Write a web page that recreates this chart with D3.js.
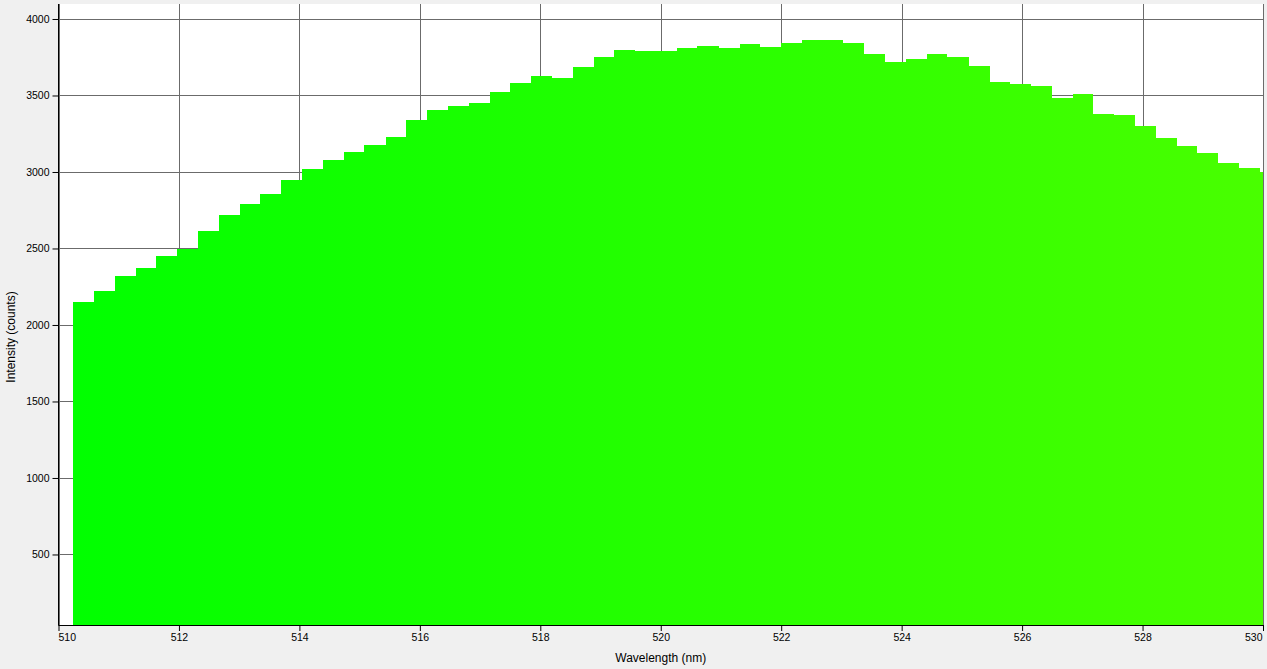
<!DOCTYPE html>
<html>
<head>
<meta charset="utf-8">
<script src="https://cdn.jsdelivr.net/npm/d3@7"></script>
<style>
  html, body { margin: 0; padding: 0; background: #f0f0f0; overflow: hidden; }
  svg { display: block; }
  text { font-family: "Liberation Sans", Arial, sans-serif; fill: #000; }
</style>
</head>
<body>
<svg id="chart" width="1267" height="669"></svg>
<script>
// Left edge of each spectrometer bin (nm)
const binStart = [510.24, 510.59, 510.93, 511.28, 511.62, 511.97, 512.31, 512.66, 513.01, 513.35,
  513.70, 514.04, 514.39, 514.74, 515.08, 515.43, 515.77, 516.12, 516.46, 516.81,
  517.16, 517.50, 517.85, 518.19, 518.54, 518.89, 519.23, 519.58, 519.92, 520.27,
  520.61, 520.96, 521.31, 521.65, 522.00, 522.34, 522.69, 523.03, 523.38, 523.73,
  524.07, 524.42, 524.76, 525.11, 525.46, 525.80, 526.15, 526.49, 526.84, 527.18,
  527.53, 527.88, 528.22, 528.57, 528.91, 529.26, 529.60, 529.95];
const lastBinEnd = 530.30;
// Intensity (counts)
const intensity = [2153, 2225, 2323, 2375, 2453, 2499, 2612, 2721, 2793, 2858,
  2950, 3022, 3080, 3133, 3178, 3231, 3341, 3407, 3433, 3453,
  3525, 3583, 3629, 3616, 3688, 3753, 3798, 3792, 3792, 3811,
  3824, 3811, 3837, 3818, 3844, 3863, 3863, 3844, 3772, 3720,
  3739, 3772, 3753, 3694, 3590, 3577, 3564, 3485, 3511, 3380,
  3374, 3302, 3224, 3172, 3126, 3061, 3028, 3002];
const xTicks = [510, 512, 514, 516, 518, 520, 522, 524, 526, 528, 530];
const yTicks = [500, 1000, 1500, 2000, 2500, 3000, 3500, 4000];
const xDomain = [510, 530];
const yDomain = [39, 4098];
const xLabel = "Wavelength (nm)";
const yLabel = "Intensity (counts)";

const svg = d3.select("#chart");
const L = 58.5, R = 1263, T = 4, B = 625;

const x = d3.scaleLinear().domain(xDomain).range([L, R]);
const y = d3.scaleLinear().domain(yDomain).range([B, T]);
const colour = d3.scaleLinear().domain(xDomain).range(["rgb(0,255,0)", "rgb(73,255,0)"]);

const defs = svg.append("defs");
defs.append("clipPath").attr("id", "plotClip")
  .append("rect").attr("x", L).attr("y", T).attr("width", R - L).attr("height", B - T);
const grad = defs.append("linearGradient").attr("id", "specGrad")
  .attr("gradientUnits", "userSpaceOnUse")
  .attr("x1", x(xDomain[0])).attr("x2", x(xDomain[1])).attr("y1", 0).attr("y2", 0);
[0, 0.25, 0.5, 0.75, 1].forEach(t => {
  const w = xDomain[0] + t * (xDomain[1] - xDomain[0]);
  grad.append("stop").attr("offset", t).attr("stop-color", colour(w));
});

// plot background
svg.append("rect").attr("x", L).attr("y", T).attr("width", R - L).attr("height", B - T).attr("fill", "#fff");

// grid
const grid = svg.append("g").attr("shape-rendering", "crispEdges");
grid.selectAll(".gx").data(xTicks).join("line")
  .attr("x1", d => Math.round(x(d)) + 0.5).attr("x2", d => Math.round(x(d)) + 0.5)
  .attr("y1", T).attr("y2", B).attr("stroke", "#6b6b6b");
grid.selectAll(".gy").data(yTicks).join("line")
  .attr("x1", L).attr("x2", R)
  .attr("y1", d => Math.round(y(d)) + 0.5).attr("y2", d => Math.round(y(d)) + 0.5)
  .attr("stroke", "#6b6b6b");

// spectrum (step area)
const pts = binStart.map((w, i) => [w, intensity[i]]);
pts.push([lastBinEnd, intensity[intensity.length - 1]]);
const area = d3.area()
  .x(d => x(d[0])).y0(y(yDomain[0])).y1(d => y(d[1]))
  .curve(d3.curveStepAfter);
svg.append("path").datum(pts)
  .attr("clip-path", "url(#plotClip)")
  .attr("d", area)
  .attr("fill", "url(#specGrad)")
  .attr("shape-rendering", "crispEdges");

// axes
const xAxis = d3.axisBottom(x).tickValues(xTicks).tickSize(6).tickPadding(3).tickFormat(d3.format("d"));
const gx = svg.append("g").attr("transform", `translate(0,${B})`).call(xAxis);
gx.select(".domain").attr("stroke", "#000").attr("d", `M${L},0.5H${R}`);
gx.selectAll(".tick line").attr("stroke", "#000");
gx.selectAll(".tick text").attr("font-size", "10.5px").attr("font-family", "Liberation Sans, Arial, sans-serif")
  .attr("text-anchor", (d, i) => i === 0 ? "start" : (i === xTicks.length - 1 ? "end" : "middle"))
  .attr("dx", (d, i) => i === 0 ? -0.5 : (i === xTicks.length - 1 ? -1 : 0));

const yAxis = d3.axisLeft(y).tickValues(yTicks).tickSize(6).tickPadding(3).tickFormat(d3.format("d"));
const gy = svg.append("g").attr("transform", `translate(${L},0)`).call(yAxis);
gy.select(".domain").attr("stroke", "#000").attr("d", `M0,${T}V${B + 0.5}`);
gy.selectAll(".tick line").attr("stroke", "#000");
gy.selectAll(".tick text").attr("font-size", "10.5px").attr("font-family", "Liberation Sans, Arial, sans-serif");

// titles
svg.append("text").attr("x", (L + R) / 2).attr("y", 662).attr("text-anchor", "middle")
  .attr("font-size", "12px").text(xLabel);
svg.append("text").attr("transform", "translate(15,337) rotate(-90)").attr("text-anchor", "middle")
  .attr("font-size", "12px").text(yLabel);
</script>
</body>
</html>
